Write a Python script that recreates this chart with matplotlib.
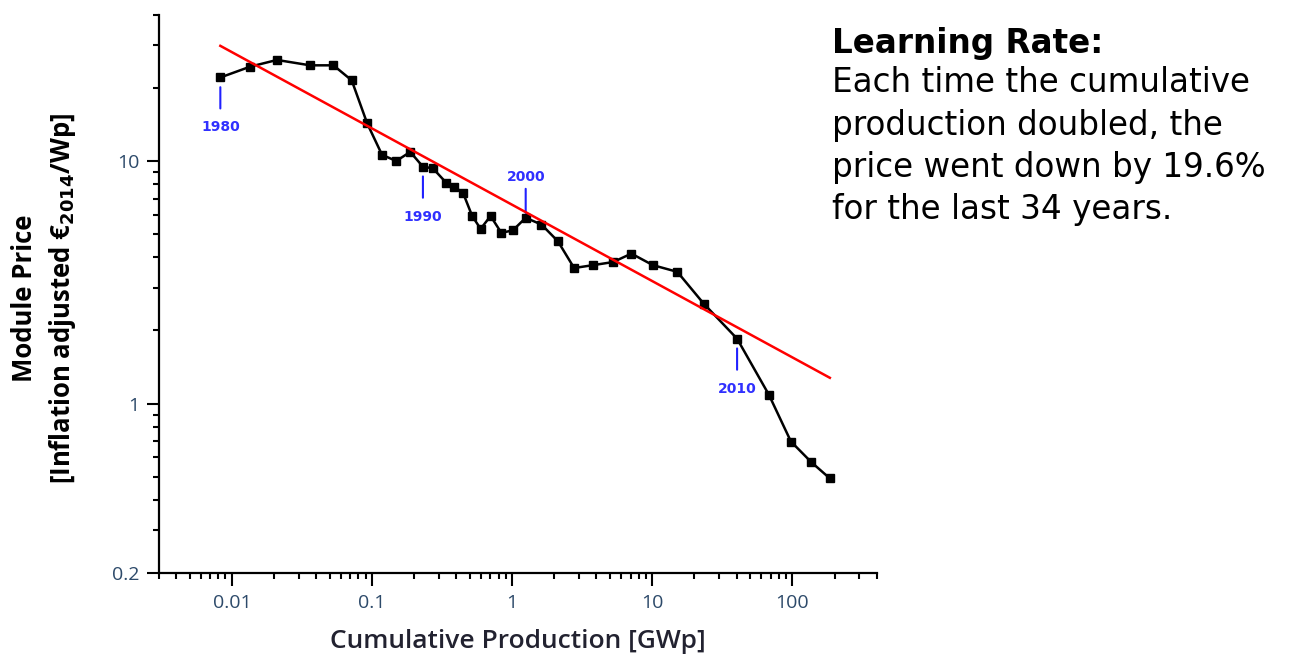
import numpy as np
import matplotlib.pyplot as plt
from matplotlib.ticker import FixedLocator, LogLocator, NullFormatter

plt.rcParams['font.family'] = ['Open Sans', 'DejaVu Sans']

# module price vs cumulative installed production, one point per year 1980-2014
years = list(range(1980, 2015))
cum_prod = [0.00828, 0.01355, 0.0210, 0.0362, 0.0531, 0.0717, 0.0924, 0.118, 0.149, 0.1875,
            0.231, 0.272, 0.339, 0.388, 0.446, 0.519, 0.596, 0.702, 0.837, 1.01,
            1.25, 1.62, 2.12, 2.77, 3.78, 5.25, 7.10, 10.1, 15.1, 23.3,
            40.3, 68.0, 97.6, 136, 185]
price = [22.1, 24.5, 26.1, 24.8, 24.8, 21.5, 14.3, 10.6, 10.0, 10.9,
         9.47, 9.33, 8.13, 7.81, 7.40, 5.93, 5.25, 5.93, 5.06, 5.17,
         5.83, 5.47, 4.67, 3.62, 3.72, 3.83, 4.15, 3.72, 3.49, 2.58,
         1.85, 1.086, 0.697, 0.574, 0.491]

# experience curve: price drops by learning_rate per doubling
learning_rate = 0.196
fit_price_at_1gw = 6.6

# years marked on the curve, and whether the tag goes below or above
marked_years = {1980: 'below', 1990: 'below', 2000: 'above', 2010: 'below'}

x_ticks = [0.01, 0.1, 1, 10, 100]
x_ticklabels = ['0.01', '0.1', '1', '10', '100']
y_ticks = [0.2, 1, 10]
y_ticklabels = ['0.2', '1', '10']

note_title = 'Learning Rate:'
note_lines = ['Each time the cumulative', 'production doubled, the',
              'price went down by 19.6%', 'for the last 34 years.']

fig = plt.figure(figsize=(12.89, 6.6), dpi=100)
ax = fig.add_axes([0.1230, 0.1318, 0.5572, 0.8455])

ax.plot(cum_prod, price, color='black', lw=1.8, marker='s', ms=5.5, zorder=3)

b = np.log2(1 - learning_rate)
fit_x = np.array([cum_prod[0], cum_prod[-1]])
ax.plot(fit_x, fit_price_at_1gw * fit_x ** b, color='#ff0000', lw=1.8, zorder=4)

# (line end, gap to marker, label offset) in pixels
tag_geom = {'below': (-31, 7, -50), 'above': (29, 3.5, 41)}
for yr, side in marked_years.items():
    i = years.index(yr)
    end, gap, lab = tag_geom[side]
    ax.annotate('', xy=(cum_prod[i], price[i]), xytext=(0, end),
                textcoords='offset pixels',
                arrowprops=dict(arrowstyle='-', color='#2020ff', lw=1.5,
                                shrinkA=0, shrinkB=gap))
    ax.annotate(str(yr), xy=(cum_prod[i], price[i]), xytext=(0, lab),
                textcoords='offset pixels', ha='center', va='center',
                color='#3030ff', fontsize=10, fontweight='bold',
                family=['DejaVu Sans'])

ax.set_xscale('log')
ax.set_yscale('log')
ax.set_xlim(0.003, 400)
ax.set_ylim(0.2, 40)

ax.xaxis.set_major_locator(FixedLocator(x_ticks))
ax.set_xticklabels(x_ticklabels)
ax.xaxis.set_minor_locator(LogLocator(base=10, subs=np.arange(2, 10)))
ax.xaxis.set_minor_formatter(NullFormatter())
ax.yaxis.set_major_locator(FixedLocator(y_ticks))
ax.set_yticklabels(y_ticklabels)
ax.yaxis.set_minor_locator(LogLocator(base=10, subs=np.arange(2, 10)))
ax.yaxis.set_minor_formatter(NullFormatter())

ax.tick_params(which='major', length=9, width=1.5, labelsize=14, colors='black',
               labelcolor='#2d4a6a')
ax.tick_params(axis='x', which='major', pad=6)
ax.tick_params(axis='y', which='major', pad=5)
ax.tick_params(which='minor', length=4, width=1.5)

for s in ['top', 'right']:
    ax.spines[s].set_visible(False)
for s in ['left', 'bottom']:
    ax.spines[s].set_linewidth(1.6)

ax.set_xlabel('Cumulative Production [GWp]', fontsize=19, color='#222230',
              fontweight='semibold', labelpad=12)

fig.text(44.5 / 1289, 0.5485,
         'Module Price\n[Inflation adjusted €$_{\\mathbf{2014}}$/Wp]',
         rotation=90, ha='center', va='center', multialignment='center',
         fontsize=18.5, fontweight='bold', linespacing=1.35)

# note on the right, one baseline per line
fig.text(832 / 1289, 1 - 53 / 660, note_title, fontsize=23.5,
         fontweight='bold', va='baseline', family=['DejaVu Sans'])
for k, line in enumerate(note_lines):
    fig.text(832 / 1289, 1 - (92 + 42.5 * k) / 660, line, fontsize=23.5,
             va='baseline', family=['DejaVu Sans'])

fig.savefig('out.png', dpi=100)
